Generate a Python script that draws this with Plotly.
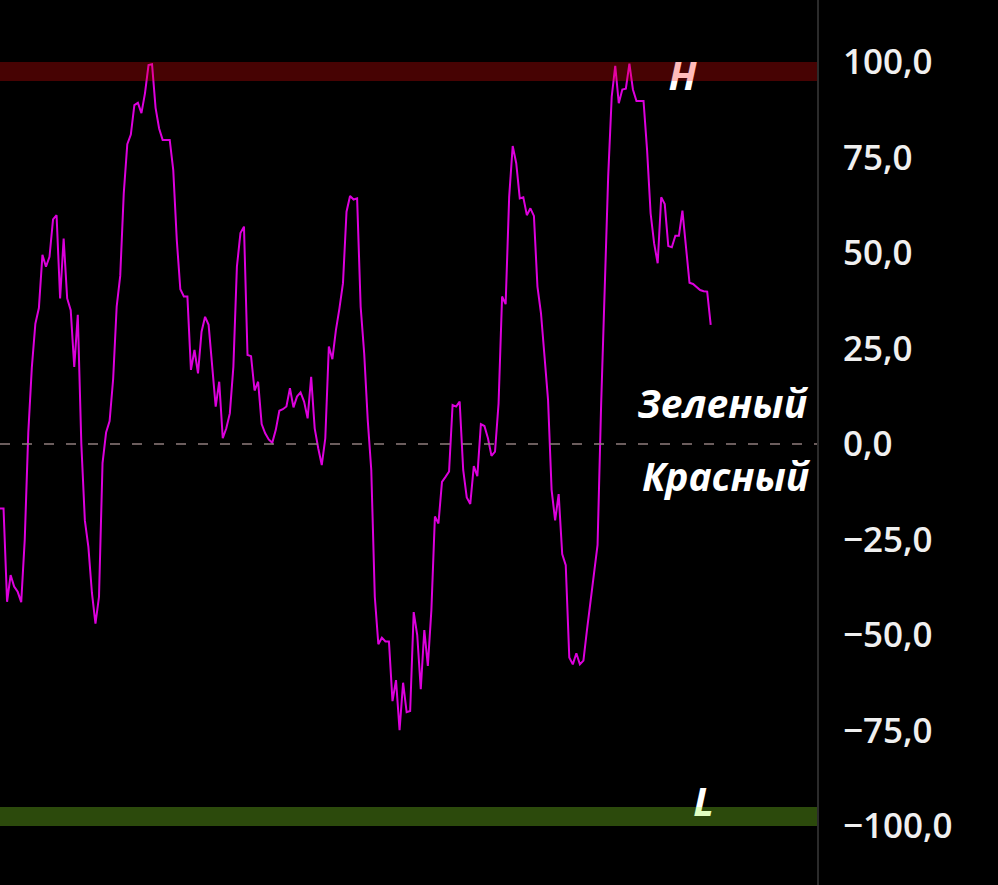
import plotly.graph_objects as go

# Oscillator values (one per bar)
values = [
    -16.9, -16.9, -41.3, -34.3, -37.3, -38.7, -41.4,
    -25, 3, 20, 31.5, 35.6, 49.5, 46.4, 49, 58.8, 59.9, 38.1, 53.8, 38.1, 35, 20.2, 33.8,
    0, -20, -27, -39, -47, -40, -5, 3, 6,
    17, 36, 44, 65.6, 78.5, 81, 88.7, 89.3, 86.6, 91.8, 99.2, 99.4, 88, 82.6, 79.6, 79.6, 79.6, 71.7, 53.4, 40.5, 38.6, 38.6,
    19.4, 24.6, 18.5, 29.4, 33.3, 31.2, 21.1, 9.8, 16.3, 1.5,
    4.1, 8, 20.2, 46.4, 55.2, 56.9, 23.3, 23, 14, 16.3,
    5.2, 2.8, 1.2, 0.3, 3.7, 8.7, 9.1, 9.8, 14.6, 9.6,
    12.4, 13.5, 11.1, 6.7, 17.6, 4.1, -1.1, -5.5, 1.5, 25.5,
    22.2, 29.8, 35.5, 42.1, 60.8, 64.9, 64, 64.3, 35.9, 23.7,
    6.3, -6.8, -40, -52.4, -50.7, -51.7, -51.7, -67.3, -61.8, -74.9,
    -62.5, -70.2, -69.9, -44, -50, -64.2, -48.7, -58.1, -43.5, -19,
    -20.8, -9.9, -8.6, -7.2, 10.2, 9.8, 11.1, -6.8, -14, -15.7,
    -5.8, -8.4, 5.2, 4.7, 1.5, -3.1, -2, 10.6, 38.6, 36.6,
    64.7, 78, 73.5, 64.3, 64.6, 59.9, 61.7, 59.7, 41.2, 34.2,
    22.9, 11.5, -12, -20, -13.1, -28.8, -31.7, -55.9, -57.7, -54.8,
    -57.7, -56.7, -48.7, -41.3, -33, -26.4, 10, 37.7, 70, 90.9,
    99, 89.2, 92.8, 93, 99.6, 92.8, 89.8, 89.8, 89.8, 77,
    60.4, 52.5, 47.3, 64.6, 62.8, 51.8, 51.5, 54.5, 54.5, 61.1,
    51.2, 42.2, 41.9, 41.2, 40.3, 40, 39.9, 31.2,
]
bars = list(range(len(values)))

tick_vals = [100, 75, 50, 25, 0, -25, -50, -75, -100]
tick_text = ["100,0", "75,0", "50,0", "25,0", "0,0", "\u221225,0", "\u221250,0", "\u221275,0", "\u2212100,0"]

high_zone = [95, 100]
low_zone = [-100, -95]
zero_level = 0

label_texts = ["H", "L", "Зеленый", "Красный"]
label_x = [193.0, 199.0, 228.3, 228.9]
label_y = [95.4, -94.8, 9.3, -9.8]

X_MAX = 231.06
Y_RANGE = [-115.45, 116.23]

fig = go.Figure()

fig.add_trace(go.Scatter(
    x=bars, y=values, mode="lines",
    line=dict(color="#dc00dc", width=2),
    hoverinfo="skip", showlegend=False,
))

# H / L labels (centered)
fig.add_trace(go.Scatter(
    x=label_x[:2], y=label_y[:2], mode="text", text=label_texts[:2],
    textposition="middle center",
    textfont=dict(family="Open Sans", size=40, color="#ffffff", weight="bold", style="italic"),
    hoverinfo="skip", showlegend=False, cliponaxis=False,
))
# Zone labels (right aligned)
fig.add_trace(go.Scatter(
    x=label_x[2:], y=label_y[2:], mode="text", text=label_texts[2:],
    textposition="middle left",
    textfont=dict(family="Open Sans", size=39, color="#ffffff", weight="bold", style="italic"),
    hoverinfo="skip", showlegend=False, cliponaxis=False,
))

fig.add_shape(type="rect", xref="x domain", yref="y", x0=0, x1=1,
              y0=high_zone[0], y1=high_zone[1], fillcolor="rgba(255,10,10,0.28)",
              line=dict(width=0), layer="above")
fig.add_shape(type="rect", xref="x domain", yref="y", x0=0, x1=1,
              y0=low_zone[0], y1=low_zone[1], fillcolor="rgba(150,255,40,0.29)",
              line=dict(width=0), layer="above")
fig.add_shape(type="line", xref="x domain", yref="y", x0=0, x1=1,
              y0=zero_level, y1=zero_level,
              line=dict(color="#8f7c7c", width=1.5, dash="10px,12px"), layer="above")

fig.update_layout(
    width=998, height=885,
    margin=dict(l=0, r=181, t=0, b=0),
    paper_bgcolor="#000000", plot_bgcolor="#000000",
    showlegend=False,
    xaxis=dict(range=[0, X_MAX], showgrid=False, zeroline=False, showticklabels=False,
               showline=False, fixedrange=True),
    yaxis=dict(range=Y_RANGE, side="right", showgrid=False, zeroline=False,
               tickvals=tick_vals, ticktext=tick_text,
               tickfont=dict(family="Open Sans", size=35, color="#f0f0f0", weight=600),
               ticks="", ticklabelstandoff=17,
               showline=True, linecolor="#2b2b2b", linewidth=2, mirror=False,
               fixedrange=True),
)

fig.write_html(
    "out.html",
    config={"displayModeBar": False},
    post_script="document.body.style.margin='0';document.body.style.padding='0';"
                "document.body.style.background='#000';",
)
